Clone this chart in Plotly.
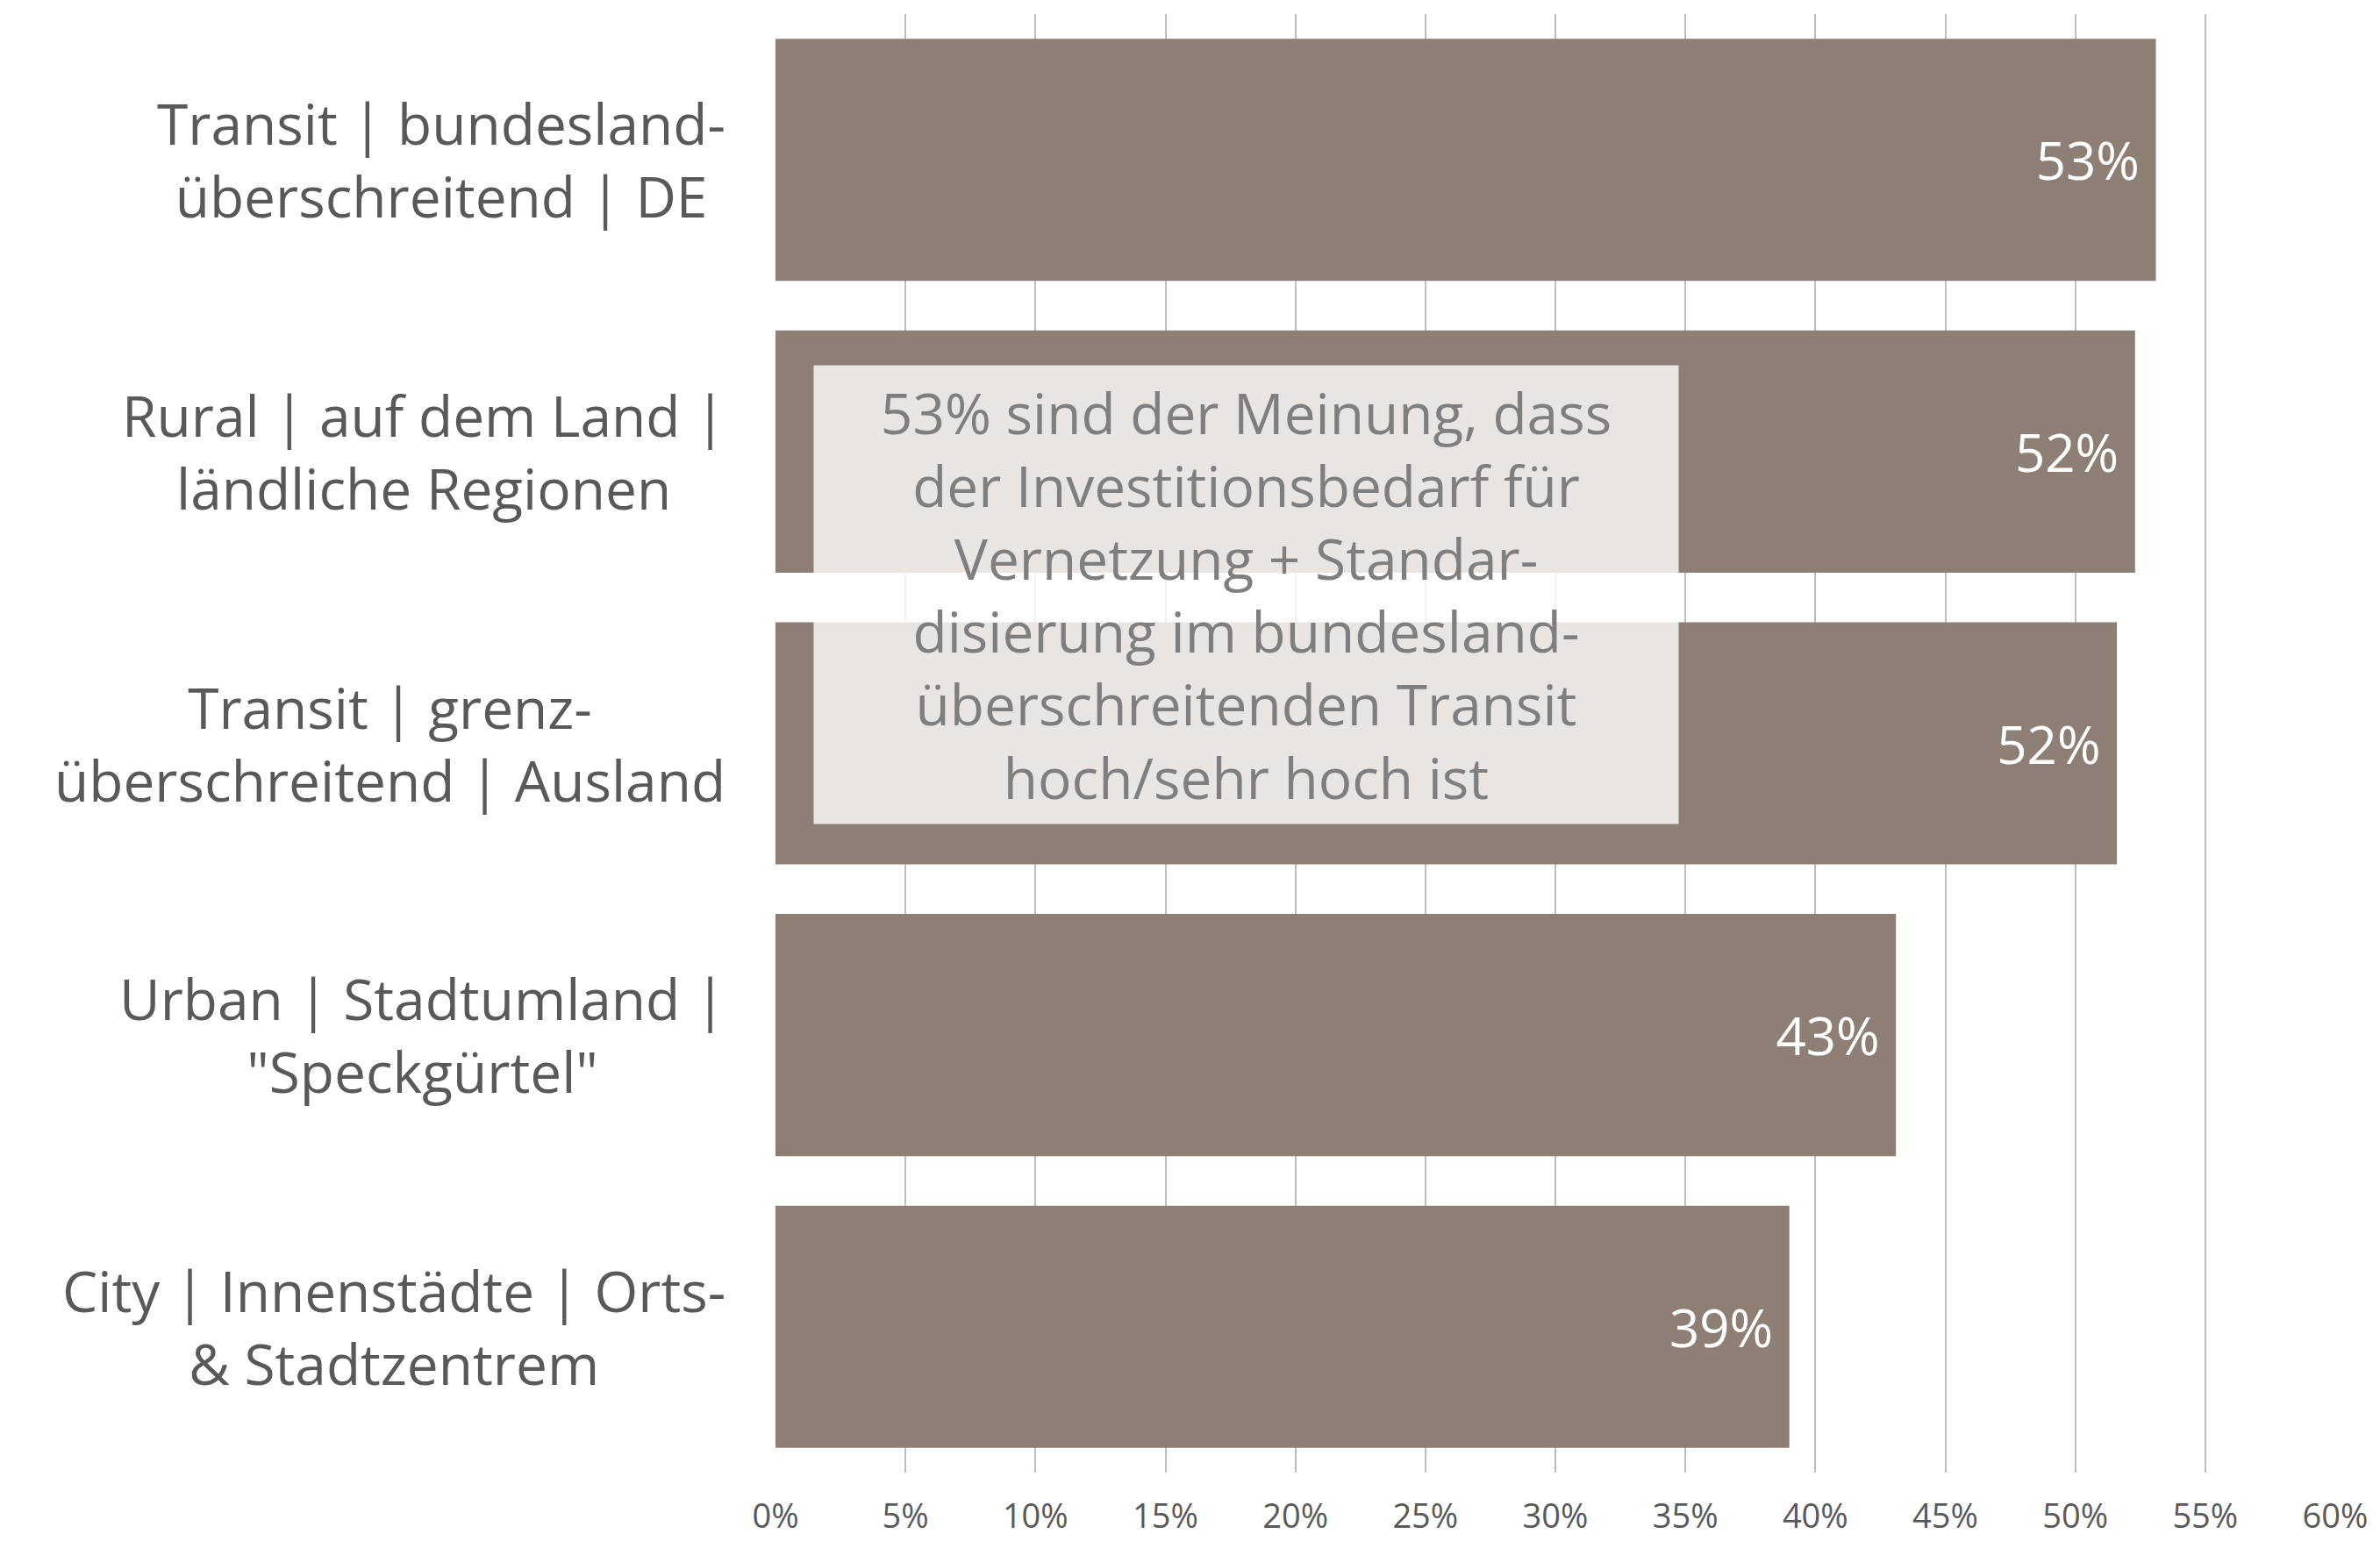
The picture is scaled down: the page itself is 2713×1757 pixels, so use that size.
import plotly.graph_objects as go

categories = [
    "Transit | bundesland-<br>überschreitend | DE",
    "Rural | auf dem Land |<br>ländliche Regionen",
    "Transit | grenz-<br>überschreitend | Ausland",
    "Urban | Stadtumland |<br>\"Speckgürtel\"",
    "City | Innenstädte | Orts-<br>& Stadtzentrem",
]
values = [53.1, 52.3, 51.6, 43.1, 39.0]
value_labels = ["53%", "52%", "52%", "43%", "39%"]
tick_values = [0, 5, 10, 15, 20, 25, 30, 35, 40, 45, 50, 55, 60]
tick_labels = [f"{v}%" for v in tick_values]
note_text = ("53% sind der Meinung, dass<br>der Investitionsbedarf für<br>"
             "Vernetzung + Standar-<br>disierung im bundesland-<br>"
             "überschreitenden Transit<br>hoch/sehr hoch ist")

FONT = "'Open Sans', Lato, sans-serif"
BAR_COLOR = "#8E7F75"

fig = go.Figure()
fig.add_trace(go.Bar(
    x=values,
    y=categories,
    orientation="h",
    marker=dict(color=BAR_COLOR, line=dict(width=0)),
    text=[t + "\u00a0" for t in value_labels],
    textposition="inside",
    insidetextanchor="end",
    textfont=dict(family=FONT, size=60, color="white"),
    cliponaxis=False,
    showlegend=False,
))

for cat in categories:
    fig.add_annotation(
        x=-0.031, xref="paper", xanchor="right",
        y=cat, yref="y", yanchor="middle",
        text=cat, showarrow=False, align="center",
        font=dict(family=FONT, size=64, color="#595959"),
    )

fig.add_annotation(
    x=0.302, xref="paper", xanchor="center",
    y=0.602, yref="paper", yanchor="middle",
    text=note_text, showarrow=False, align="center", valign="middle",
    width=981, height=518, borderpad=2,
    bgcolor="rgba(255,255,255,0.8)",
    font=dict(family=FONT, size=64, color="#7F7F7F"),
)

fig.update_layout(
    width=2713, height=1757,
    margin=dict(l=884, r=51, t=16, b=78, autoexpand=False),
    paper_bgcolor="white", plot_bgcolor="white",
    bargap=0.17,
    xaxis=dict(
        range=[0, 60], tickvals=tick_values, ticktext=tick_labels,
        showgrid=True, gridcolor="#BFBFBF", gridwidth=1.5,
        zeroline=False, showline=False, ticks="",
        automargin=False,
        ticklabelstandoff=24,
        tickfont=dict(family=FONT, size=38, color="#595959"),
    ),
    yaxis=dict(
        autorange="reversed", showticklabels=False, showgrid=False,
        zeroline=False, showline=False, ticks="", automargin=False,
    ),
)

fig.write_html("out.html", config={"displayModeBar": False},
               post_script="document.body.style.margin='0';")
